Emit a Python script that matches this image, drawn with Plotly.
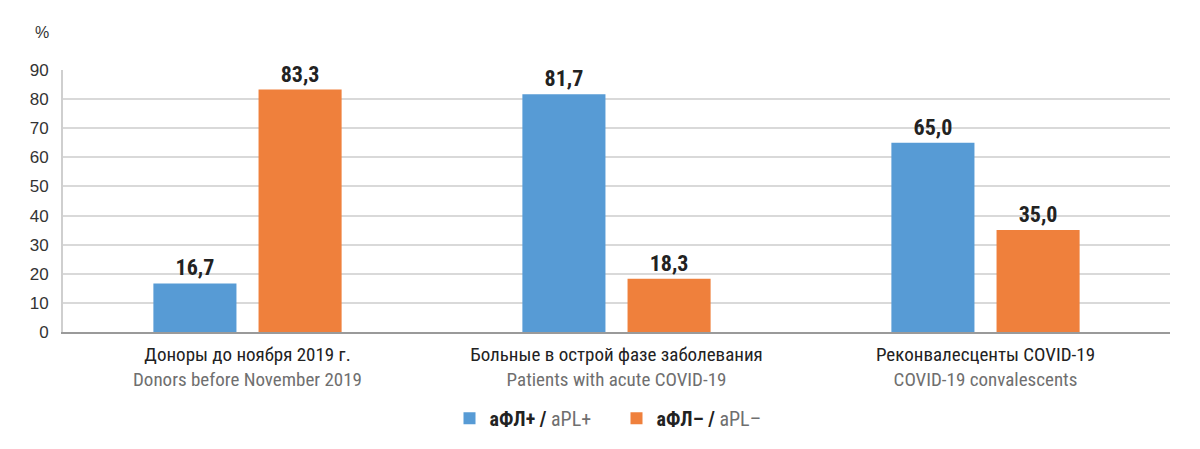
import plotly.graph_objects as go

categories = ["Доноры до ноября 2019 г.", "Больные в острой фазе заболевания", "Реконвалесценты COVID-19"]
categories_en = ["Donors before November 2019", "Patients with acute COVID-19", "COVID-19 convalescents"]
apl_pos = [16.7, 81.7, 65.0]
apl_neg = [83.3, 18.3, 35.0]
series_ru = ["аФЛ+", "аФЛ–"]
series_en = ["aPL+", "aPL–"]
y_ticks = [0, 10, 20, 30, 40, 50, 60, 70, 80, 90]

FONT = "Liberation Sans Narrow, Roboto Condensed, Arial Narrow, Liberation Sans, sans-serif"
TICKFONT = "Liberation Sans, Arial, sans-serif"
BLUE = "#579bd5"
ORANGE = "#ef803c"

def fmt(v):
    return f"{v:.1f}".replace(".", ",")

fig = go.Figure()
for ru, en, vals, col in [(series_ru[0], series_en[0], apl_pos, BLUE), (series_ru[1], series_en[1], apl_neg, ORANGE)]:
    fig.add_trace(go.Bar(
        x=categories, y=vals, name=f"<b>{ru} /</b> <span style='color:#6f6f6f'>{en}</span>",
        marker=dict(color=col, line=dict(width=0)),
        text=[fmt(v) for v in vals], textposition="outside", cliponaxis=False,
        textfont=dict(family=FONT, size=22, color="#222222", weight="bold"),
    ))

ticktext = [f"<span style='color:#222'>{c}</span><br><span style='color:#6f6f6f'>{e}</span>"
            for c, e in zip(categories, categories_en)]

fig.update_layout(
    width=1200, height=449,
    margin=dict(l=55, r=38, t=62, b=125, autoexpand=False),
    paper_bgcolor="white", plot_bgcolor="white",
    barmode="group", bargap=0.43, bargroupgap=0.21,
    font=dict(family=FONT, size=15, color="#333333"),
    showlegend=True,
    legend=dict(orientation="h", x=0.5, xanchor="center", y=-0.255, yanchor="top",
                font=dict(family=FONT, size=20, color="#222222"), itemwidth=30,
                traceorder="normal", entrywidth=122),
    xaxis=dict(tickmode="array", tickvals=categories, ticktext=ticktext,
               showline=True, linecolor="#9a9a9a", linewidth=2, ticks="",
               tickfont=dict(family=FONT, size=19), showgrid=False, ticklabelstandoff=4,
               automargin=False),
    yaxis=dict(range=[0, 90], tickvals=y_ticks, showgrid=True, gridcolor="#d9d9d9", gridwidth=2,
               showline=True, linecolor="#cfcfcf", linewidth=2, zeroline=False, ticks="",
               tickfont=dict(family=TICKFONT, size=17, color="#333333"), ticklabelstandoff=9,
               automargin=False),
    annotations=[dict(text="%", x=0, xref="paper", y=1.145, yref="paper", xanchor="right",
                      yanchor="middle", xshift=-12, showarrow=False,
                      font=dict(family=TICKFONT, size=16, color="#333333"))],
)

fig.write_html("out.html")
